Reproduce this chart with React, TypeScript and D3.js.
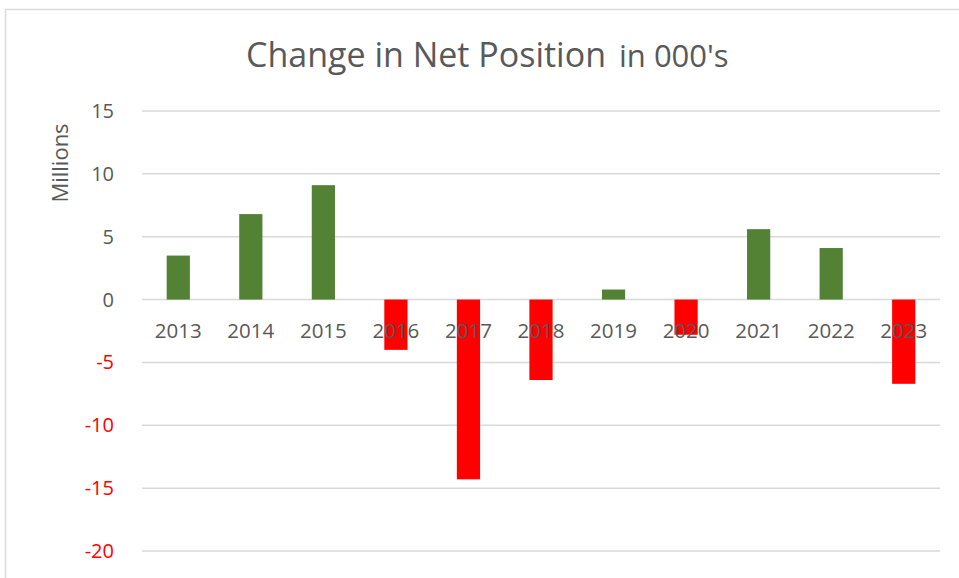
import React from "react";
import * as d3 from "d3";

const years = ["2013","2014","2015","2016","2017","2018","2019","2020","2021","2022","2023"];
const values = [3.5, 6.8, 9.1, -4.0, -14.3, -6.4, 0.8, -2.8, 5.6, 4.1, -6.7];
const yTicks = [15, 10, 5, 0, -5, -10, -15, -20];

const W = 959, H = 578;
const FONT = "'Open Sans', 'Noto Sans', sans-serif";

export default function App() {
  const x = d3.scaleBand<string>().domain(years).range([142, 940]).paddingInner(0.68).paddingOuter(0.34);
  const y = d3.scaleLinear().domain([-20, 15]).range([551, 111]);
  return (
    <svg width={W} height={H} style={{ position: "absolute", left: 0, top: 0, background: "#fff" }}>
      <rect x={5.5} y={9.5} width={W + 10} height={H + 10} fill="#fff" stroke="#d9d9d9" strokeWidth={1.5} />
      <text y={67} fill="#595959" fontFamily={FONT}>
        <tspan x={246} fontSize={34}>Change in Net Position</tspan>
        <tspan x={619} fontSize={31}>in 000's</tspan>
      </text>
      {yTicks.map(t => (
        <g key={t}>
          <line x1={142} x2={940} y1={y(t)} y2={y(t)} stroke="#d9d9d9" strokeWidth={1.5} />
          <text x={114} y={y(t)} dy="0.35em" textAnchor="end" fontSize={20} fontFamily={FONT} fill={t < 0 ? "#ff0000" : "#595959"}>{t}</text>
        </g>
      ))}
      <text transform={`translate(60,${163}) rotate(-90)`} textAnchor="middle" dy="0.35em" fontSize={22} fontFamily={FONT} fill="#595959">Millions</text>
      {years.map((yr, i) => {
        const v = values[i];
        return (
          <rect key={yr} x={x(yr)} width={x.bandwidth()} y={y(Math.max(0, v))} height={Math.abs(y(v) - y(0))}
            fill={v >= 0 ? "#548235" : "#ff0000"} />
        );
      })}
      {years.map(yr => (
        <text key={yr} x={(x(yr) as number) + x.bandwidth() / 2} y={331} dy="0.35em" textAnchor="middle" fontSize={20.5} fontFamily={FONT} fill="#595959">{yr}</text>
      ))}
    </svg>
  );
}
